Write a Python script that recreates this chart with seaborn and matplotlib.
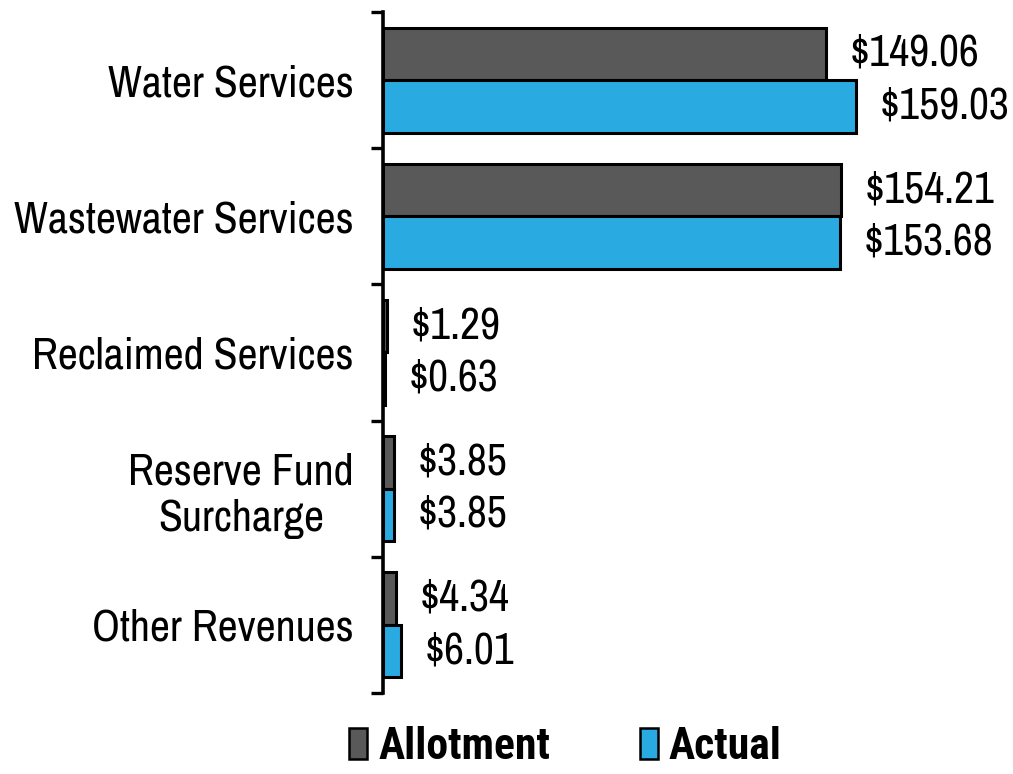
import matplotlib
matplotlib.use("Agg")
import matplotlib.pyplot as plt
import pandas as pd
import seaborn as sns
from matplotlib.patches import Patch

categories = ["Water Services", "Wastewater Services", "Reclaimed Services",
              "Reserve Fund\nSurcharge", "Other Revenues"]
allotment = [149.06, 154.21, 1.29, 3.85, 4.34]
actual = [159.03, 153.68, 0.63, 3.85, 6.01]
series = ["Allotment", "Actual"]
colors = ["#595959", "#29abe2"]

sns.set_style("white")
plt.rcParams["font.family"] = ["Archivo Narrow", "Liberation Sans", "DejaVu Sans"]
plt.rcParams["text.color"] = "black"
plt.rcParams["ytick.color"] = "black"
plt.rcParams["ytick.labelcolor"] = "black"

df = pd.DataFrame({
    "category": categories * 2,
    "value": allotment + actual,
    "series": [series[0]] * len(categories) + [series[1]] * len(categories),
})

fig = plt.figure(figsize=(10.13, 7.74), dpi=100)
ax = fig.add_axes([0.378, 0.1047, 0.587, 0.8798])
sns.barplot(data=df, y="category", x="value", hue="series", orient="h",
            palette=colors, saturation=1, edgecolor="black", linewidth=2.2,
            width=0.77, dodge=True, ax=ax, legend=False)

for cont, vals in zip(ax.containers, [allotment, actual]):
    ax.bar_label(cont, labels=[f"${v:.2f}" for v in vals], padding=17,
                 fontsize=31.5, color="black")

ax.set_xlim(0, 200)
ax.set_ylim(4.5, -0.5)
ax.set_xlabel("")
ax.set_ylabel("")
ax.set_xticks([])
for s in ["top", "right", "bottom"]:
    ax.spines[s].set_visible(False)
ax.spines["left"].set_linewidth(2.6)
ax.spines["left"].set_color("black")

ax.set_yticks(range(len(categories)))
ax.set_yticklabels(categories, fontsize=31.5)
for lbl in ax.get_yticklabels():
    lbl.set_multialignment("center")
ax.tick_params(axis="y", which="major", left=True, length=0, pad=21)
ax.set_yticks([i - 0.5 for i in range(len(categories) + 1)], minor=True)
ax.tick_params(axis="y", which="minor", left=True, length=9, width=2.4,
               color="black", direction="out")

handles = [Patch(facecolor=c, edgecolor="black", linewidth=1.8) for c in colors]
fig.legend(handles, series, loc="lower center", bbox_to_anchor=(0.558, -0.043),
           ncol=2, frameon=False, handlelength=0.42, handleheight=0.7,
           handletextpad=0.25, columnspacing=2.05,
           prop={"family": ["Roboto Condensed", "Asap Condensed", "Liberation Sans"],
                 "size": 31.5, "weight": "bold"})

fig.savefig("out.png", dpi=100)
